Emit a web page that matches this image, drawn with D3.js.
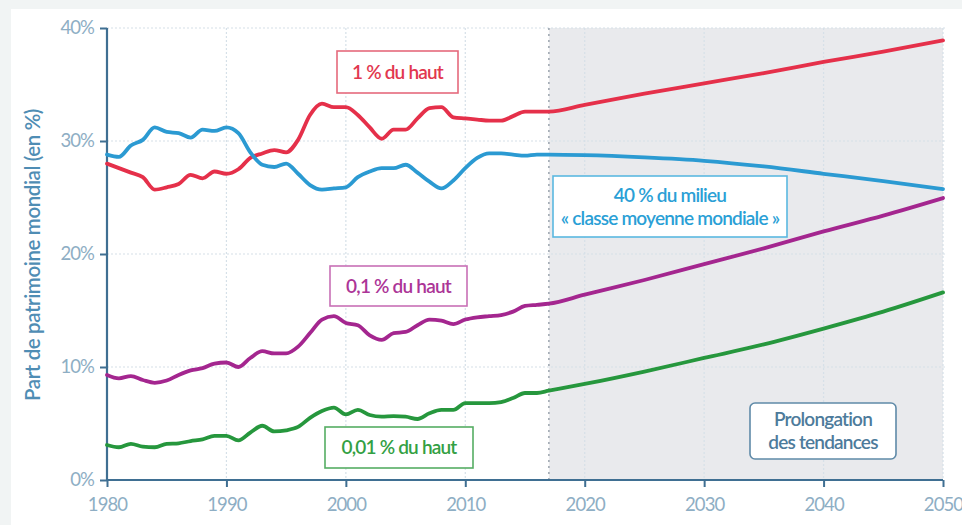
<!DOCTYPE html>
<html><head><meta charset="utf-8">
<script src="https://cdn.jsdelivr.net/npm/d3@7"></script>
<style>
html,body{margin:0;padding:0;background:#f1f4f4;}
svg{display:block;font-family:Lato,"Open Sans",sans-serif;}
</style></head><body>
<svg id="c" width="962" height="525"></svg>
<script>
const years = [1980,1981,1982,1983,1984,1985,1986,1987,1988,1989,1990,1991,1992,1993,1994,1995,1996,1997,1998,1999,2000,2001,2002,2003,2004,2005,2006,2007,2008,2009,2010,2011,2012,2013,2014,2015,2016,2017,2020,2025,2030,2035,2040,2045,2050];
const top1 = [28.0,27.6,27.2,26.8,25.7,25.9,26.2,27.0,26.7,27.3,27.1,27.5,28.5,28.9,29.2,29.0,30.1,32.3,33.3,33.0,33.0,32.3,31.2,30.2,31.0,31.0,32.0,32.9,33.0,32.1,32.0,31.9,31.8,31.8,32.2,32.6,32.6,32.6,33.2,34.2,35.1,36.0,37.0,37.9,38.9];
const middle40 = [28.8,28.6,29.6,30.1,31.2,30.8,30.7,30.3,31.0,30.9,31.2,30.7,29.0,27.9,27.7,28.0,27.1,26.1,25.7,25.8,25.9,26.8,27.3,27.6,27.6,27.9,27.2,26.4,25.8,26.5,27.6,28.5,28.9,28.9,28.8,28.7,28.8,28.8,28.75,28.55,28.25,27.75,27.1,26.45,25.75];
const top01 = [9.3,9.0,9.2,8.85,8.6,8.8,9.3,9.7,9.9,10.3,10.4,10.0,10.8,11.4,11.2,11.2,11.8,13.0,14.2,14.5,13.9,13.7,12.8,12.4,13.0,13.1,13.7,14.2,14.1,13.8,14.2,14.4,14.5,14.6,14.9,15.4,15.5,15.6,16.4,17.7,19.1,20.5,22.0,23.4,24.95];
const top001 = [3.1,2.9,3.2,2.95,2.9,3.2,3.25,3.45,3.6,3.9,3.9,3.5,4.2,4.8,4.3,4.4,4.7,5.5,6.1,6.4,5.8,6.2,5.75,5.6,5.65,5.6,5.4,5.9,6.2,6.2,6.8,6.8,6.8,6.9,7.25,7.7,7.7,7.9,8.5,9.6,10.8,12.0,13.4,14.9,16.6];
const xTicks = [1980,1990,2000,2010,2020,2030,2040,2050];
const yTicks = [0,10,20,30,40];
const projStart = 2017;
const seriesNames = ["1 % du haut","40 % du milieu","0,1 % du haut","0,01 % du haut"];

const svg = d3.select("#c");
svg.append("rect").attr("x",11).attr("y",9).attr("width",951).attr("height",516).attr("fill","#ffffff");

const x = d3.scaleLinear().domain([1980,2050]).range([107,943]);
const y = d3.scaleLinear().domain([0,40]).range([480,28]);

// projection shading
svg.append("rect").attr("x",x(projStart)).attr("y",y(40)).attr("width",x(2050)-x(projStart)).attr("height",y(0)-y(40)).attr("fill","#e9eaed");

// grid
const grid = svg.append("g");
grid.selectAll(".hg").data(yTicks.filter(d=>d>0)).enter().append("line")
  .attr("x1",x(1980)).attr("x2",x(2050)+4).attr("y1",d=>y(d)).attr("y2",d=>y(d))
  .attr("stroke","#d6e0e8").attr("stroke-width",1.2).attr("stroke-dasharray","2,2");
grid.selectAll(".vg").data(xTicks.slice(1)).enter().append("line")
  .attr("x1",d=>x(d)).attr("x2",d=>x(d)).attr("y1",y(40)).attr("y2",y(0))
  .attr("stroke","#d6e0e8").attr("stroke-width",1.2).attr("stroke-dasharray","2,2");
svg.append("line").attr("x1",x(projStart)).attr("x2",x(projStart)).attr("y1",y(40)).attr("y2",y(0))
  .attr("stroke","#9aa4ad").attr("stroke-width",1.5).attr("stroke-dasharray","2,4");

// axes
const axisColor = "#3f6f92", tickText = "#8eaec4";
const yAxis = svg.append("g").attr("transform",`translate(${x(1980)},0)`)
  .call(d3.axisLeft(y).tickValues(yTicks).tickFormat(d=>d+"%").tickSize(7).tickPadding(6));
const xAxis = svg.append("g").attr("transform",`translate(0,${y(0)})`)
  .call(d3.axisBottom(x).tickValues(xTicks).tickFormat(d3.format("d")).tickSize(7).tickPadding(11));
[yAxis,xAxis].forEach(a=>{
  a.select(".domain").attr("stroke",axisColor).attr("stroke-width",2.2);
  a.selectAll(".tick line").attr("stroke",axisColor).attr("stroke-width",2);
  a.selectAll(".tick text").attr("fill",tickText).attr("font-size",18.5).attr("letter-spacing","-0.9")
    .attr("font-family","Lato, sans-serif");
});
yAxis.select(".domain").attr("d",`M0,${y(40)}V${y(0)}`);
xAxis.select(".domain").attr("d",`M${x(1980)},0H${x(2050)}`);

svg.append("text").attr("transform",`translate(40,${(y(0)+y(40))/2+1}) rotate(-90)`)
  .attr("text-anchor","middle").attr("fill","#4f8db4").attr("font-size",20.5).attr("font-weight",600)
  .attr("letter-spacing","-0.4").text("Part de patrimoine mondial (en %)");

// lines
const series = [
  {vals:top1,color:"#e5304a"},
  {vals:middle40,color:"#2b9ad2"},
  {vals:top01,color:"#a4268f"},
  {vals:top001,color:"#26973d"}
];
const line = d3.line().x((d,i)=>x(years[i])).y(d=>y(d)).curve(d3.curveMonotoneX);
series.forEach(s=>{
  svg.append("path").attr("d",line(s.vals)).attr("fill","none").attr("stroke",s.color)
    .attr("stroke-width",3.8).attr("stroke-linejoin","round").attr("stroke-linecap","round");
});

// label boxes
function box(x0,y0,w,h,stroke,lines,color,rx){
  svg.append("rect").attr("x",x0).attr("y",y0).attr("width",w).attr("height",h).attr("rx",rx||0)
    .attr("fill","#ffffff").attr("stroke",stroke).attr("stroke-width",1.6);
  const n=lines.length, lh=23;
  lines.forEach((t,i)=>{
    svg.append("text").attr("x",x0+w/2).attr("y",y0+h/2+(i-(n-1)/2)*lh).attr("dy","0.35em")
      .attr("text-anchor","middle").attr("fill",color).attr("font-size",19).attr("font-weight",600)
      .attr("letter-spacing","-0.8").text(t);
  });
}
box(337,51,121,42,"#e56a7c",[seriesNames[0]],"#e2384f");
box(553,176,234,61,"#5bb8e0",[seriesNames[1],"« classe moyenne mondiale »"],"#2a9fd6");
box(330,266,137,40,"#c870b6",[seriesNames[2]],"#ac3597");
box(325,427,148,41,"#55ad63",[seriesNames[3]],"#33a043");
box(750,403,146,56,"#5f8aa8",["Prolongation","des tendances"],"#4d7b9b",5);
</script>
</body></html>
